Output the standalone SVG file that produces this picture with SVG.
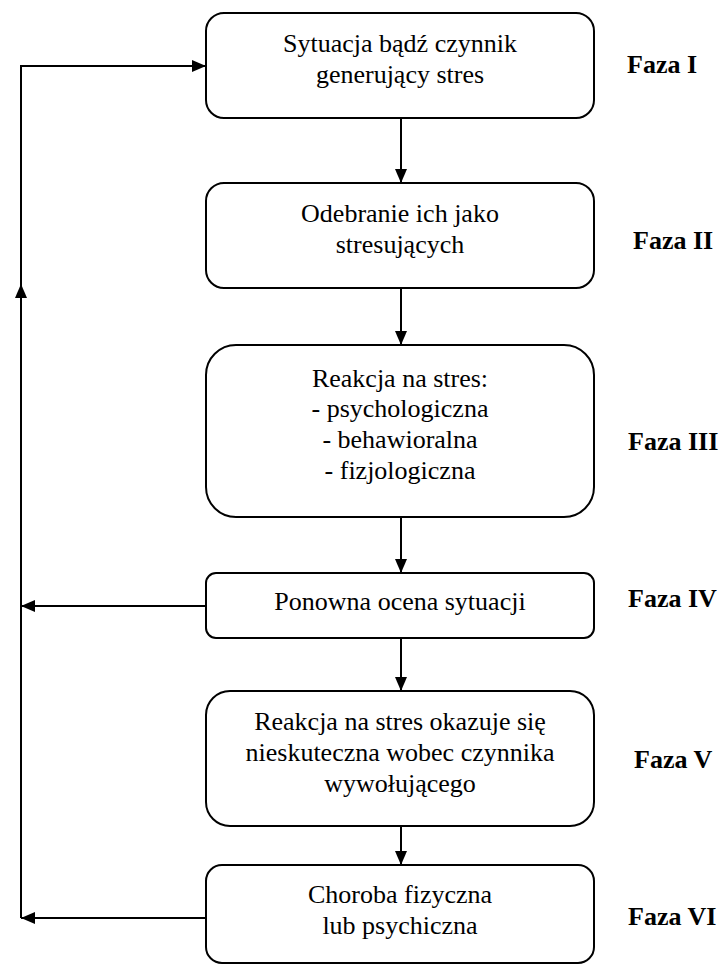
<svg xmlns="http://www.w3.org/2000/svg" width="719" height="968" viewBox="0 0 719 968">
<defs>
<marker id="ah" markerWidth="14" markerHeight="12" refX="14" refY="6" orient="auto" markerUnits="userSpaceOnUse">
<path d="M0,0 L14,6 L0,12 Z" fill="#000"/>
</marker>
</defs>
<rect width="719" height="968" fill="#fff"/>
<g id="connectors" fill="none" stroke="#000" stroke-width="2">
<line x1="401" y1="118" x2="401" y2="183" marker-end="url(#ah)"/>
<line x1="401" y1="288" x2="401" y2="345" marker-end="url(#ah)"/>
<line x1="401" y1="517" x2="401" y2="573" marker-end="url(#ah)"/>
<line x1="401" y1="638" x2="401" y2="691" marker-end="url(#ah)"/>
<line x1="401" y1="826" x2="401" y2="865" marker-end="url(#ah)"/>
<line x1="206" y1="606" x2="21" y2="606" marker-end="url(#ah)"/>
<line x1="206" y1="918" x2="21" y2="918" marker-end="url(#ah)"/>
<line x1="21" y1="918" x2="21" y2="284" marker-end="url(#ah)"/>
<polyline points="21,290 21,66 206,66" marker-end="url(#ah)"/>
</g>
<g font-family="Liberation Serif, serif" font-size="26" fill="#000">
<g id="node1" text-anchor="middle">
<rect x="206" y="13" width="388" height="105" rx="18" fill="#fff" stroke="#000" stroke-width="2"/>
<text x="400" y="52">Sytuacja bądź czynnik</text>
<text x="400" y="83">generujący stres</text>
</g>
<g id="node2" text-anchor="middle">
<rect x="206" y="183" width="388" height="105" rx="18" fill="#fff" stroke="#000" stroke-width="2"/>
<text x="400" y="222">Odebranie ich jako</text>
<text x="400" y="253">stresujących</text>
</g>
<g id="node3" text-anchor="middle">
<rect x="206" y="345" width="388" height="172" rx="30" fill="#fff" stroke="#000" stroke-width="2"/>
<text x="400" y="387">Reakcja na stres:</text>
<text x="400" y="417">- psychologiczna</text>
<text x="400" y="448">- behawioralna</text>
<text x="400" y="479">- fizjologiczna</text>
</g>
<g id="node4" text-anchor="middle">
<rect x="206" y="573" width="388" height="65" rx="10" fill="#fff" stroke="#000" stroke-width="2"/>
<text x="400" y="610">Ponowna ocena sytuacji</text>
</g>
<g id="node5" text-anchor="middle">
<rect x="206" y="691" width="388" height="135" rx="24" fill="#fff" stroke="#000" stroke-width="2"/>
<text x="400" y="730">Reakcja na stres okazuje się</text>
<text x="400" y="761">nieskuteczna wobec czynnika</text>
<text x="400" y="792">wywołującego</text>
</g>
<g id="node6" text-anchor="middle">
<rect x="206" y="865" width="388" height="98" rx="16" fill="#fff" stroke="#000" stroke-width="2"/>
<text x="400" y="903">Choroba fizyczna</text>
<text x="400" y="934">lub psychiczna</text>
</g>
<g id="labels" font-weight="bold">
<text x="627" y="73">Faza I</text>
<text x="633" y="249">Faza II</text>
<text x="628" y="450">Faza III</text>
<text x="628" y="607">Faza IV</text>
<text x="634" y="768">Faza V</text>
<text x="628" y="925">Faza VI</text>
</g>
</g>
</svg>
